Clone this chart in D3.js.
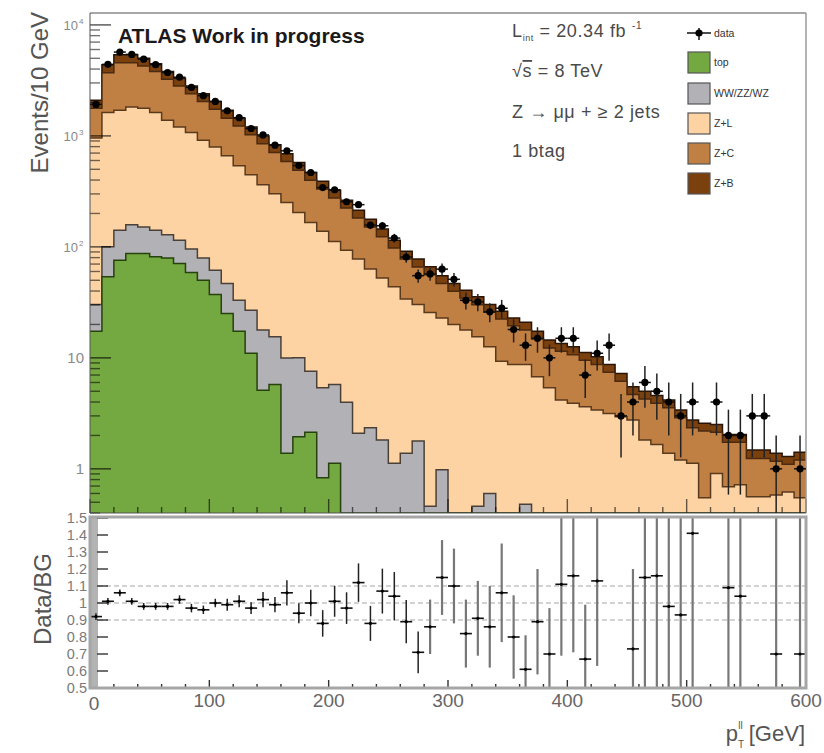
<!DOCTYPE html>
<html><head><meta charset="utf-8">
<script src="https://cdn.jsdelivr.net/npm/d3@7"></script>
<style>
body{margin:0;background:#fff}
svg{display:block}
text{font-family:"Liberation Sans",Arial,Helvetica,sans-serif}
</style>
</head><body>
<svg id="c" width="824" height="753"></svg>
<script>
// ---- data (p_T^ll bins of 10 GeV, 0..600) ----
const binLow = d3.range(0, 600, 10);

const topBkg = [17.4,53.7,75.9,87.1,87.1,81.3,79.4,70.8,58.9,50.1,
  37.2,25.1,17.4,11.0,5.1,5.75,1.38,1.95,2.14,0.83,
  1.12,0,0,0,0,0,0,0,0,0, 0,0,0,0,0,0,0,0,0,0,
  0,0,0,0,0,0,0,0,0,0, 0,0,0,0,0,0,0,0,0,0];

const diboson = [12.8,46.3,65.1,71.4,64.3,60,49.4,44,36.6,29.3,
  24.5,21.7,15.7,15.9,12.7,9.75,8.6,8.05,5.45,4.54,
  4.63,3.98,2.09,2.34,1.82,1.12,1.38,1.78,0.46,0.98,
  0,0,0.46,0.60,0,0,0.48,0,0,0, 0,0,0,0,0,0,0,0,0,0, 0,0,0,0,0,0,0,0,0,0];

const zLight = [925,1522,1557,1661,1627,1481,1251,1087,977,833,
  732,614,504,420,345,286,241,194,158,133,
  106,89.3,75.5,60.8,50.7,42.6,32.5,28.4,25.2,21.9,
  20.0,17.8,15.0,12.0,9.33,8.71,8.23,6.76,5.37,4.17,
  3.89,3.63,3.39,3.16,2.95,2.75,1.82,1.66,1.38,1.20,
  1.12,0.55,0.91,0.69,0.72,0.56,0.56,0.58,0.62,0.55];

const zCharm = [823,2093,2872,2750,2487,2179,1855,1616,1326,1130,
  944,784,693,576,488,406,338,285,232,193,
  164,131,104,88,71,54,43.7,35.8,30.5,23.9,
  19.8,16.8,14.7,13.1,13.1,10.8,9.1,8.0,6.9,7.3,
  6.8,5.9,5.3,4.25,3.2,1.93,2.44,2.23,2.17,1.68,
  1.22,1.64,1.23,1.05,1.02,0.68,0.68,0.59,0.48,0.65];

const zBottom = [311,650,800,800,747,666,567,493,420,357,
  304,253,215,179,149,124,103,86,70,58,
  48,39,32,26.5,21.6,17.1,13.6,11.6,9.9,8.2,
  7.0,6.1,5.3,4.5,3.9,3.4,3.1,2.6,2.2,2.0,
  1.9,1.67,1.52,1.30,1.08,0.82,0.75,0.68,0.62,0.51,
  0.41,0.38,0.37,0.30,0.30,0.24,0.24,0.21,0.19,0.21];

const dataCounts = [1922,4409,5692,5424,4912,4378,3726,3377,2733,2303,
  2042,1681,1459,1166,1020,824,734,541,468,342,
  327,255,240,157,155,120,81,55,57,63,
  51,33,32,26,28,18,13,15,10,15,
  15,7,11,13,3,4,6,5,4,3,
  4,0,4,2,2,3,3,1,0,1];

const ratio = [0.92,1.01,1.06,1.01,0.98,0.98,0.98,1.02,0.97,0.96,
  1.00,0.99,1.01,0.97,1.02,0.99,1.06,0.94,1.00,0.88,
  1.01,0.97,1.12,0.88,1.07,1.04,0.89,0.71,0.86,1.15,
  1.10,0.82,0.91,0.86,1.06,0.80,0.61,0.89,0.70,1.11,
  1.16,0.67,1.13,null,null,0.73,1.15,1.16,0.98,0.93,
  1.41,null,null,1.09,1.04,null,null,0.70,null,0.70];

const ratioErr = [0.02,0.02,0.02,0.02,0.02,0.02,0.02,0.025,0.025,0.025,
  0.025,0.035,0.035,0.035,0.045,0.045,0.074,0.059,0.078,0.078,
  0.091,0.093,0.113,0.103,0.132,0.142,0.127,0.123,0.16,0.22,
  0.22,0.2,0.22,0.24,0.29,0.245,0.2,0.31,0.27,0.42,
  0.45,0.32,0.5,0,0,0.47,0.8,0.8,0.7,0.7,
  1.0,0,0,1.0,1.0,0,0,0.8,0,0.8];

const xTicks = [0,100,200,300,400,500,600];
const ratioTicks = [0.5,0.6,0.7,0.8,0.9,1.0,1.1,1.2,1.3,1.4,1.5];
const legendNames = ["data","top","WW/ZZ/WZ","Z+L","Z+C","Z+B"];
const infoLines = ["20.34","8 TeV","Z \u2192 \u03bc\u03bc + \u2265 2 jets","1 btag"];

// ---- scales ----
const svg = d3.select("#c");
const X0 = 90, X1 = 806, YT = 13, YB = 513, RT = 518, RB = 688;
const x = d3.scaleLinear().domain([0, 600]).range([X0, X1]);
const y = d3.scaleLog().domain([0.4, 12800]).range([YB, YT]).clamp(true);
const yr = d3.scaleLinear().domain([0.5, 1.5]).range([RB, RT]);
const Y = v => v > 0 ? y(v) : YB;

svg.append("defs").append("clipPath").attr("id","cp")
  .append("rect").attr("x",X0).attr("y",YT).attr("width",X1-X0).attr("height",YB-YT);
svg.append("defs").append("clipPath").attr("id","cpr")
  .append("rect").attr("x",X0).attr("y",RT).attr("width",X1-X0).attr("height",RB-RT);

// ---- stacked histograms ----
const layers = [
  {name:"top", vals:topBkg, color:"#74a840", stroke:"#27420f"},
  {name:"WW/ZZ/WZ", vals:diboson, color:"#b2b2b6", stroke:"#4a4038"},
  {name:"Z+L", vals:zLight, color:"#fdd3a4", stroke:"#5a3a1c"},
  {name:"Z+C", vals:zCharm, color:"#c07f43", stroke:"#4a2a10"},
  {name:"Z+B", vals:zBottom, color:"#7a400e", stroke:"#2a1406"}
];
let cum = binLow.map(() => 0);
layers.forEach(l => { cum = cum.map((c,i) => c + l.vals[i]); l.hi = cum.slice(); });

const stepPts = arr => { const p = binLow.map((b,i) => [b, arr[i]]); p.push([600, arr[arr.length-1]]); return p; };
const area = d3.area().curve(d3.curveStepAfter).x(d => x(d[0])).y0(YB).y1(d => Y(d[1]));
const line = d3.line().curve(d3.curveStepAfter).x(d => x(d[0])).y(d => Y(d[1]));

const gm = svg.append("g").attr("clip-path","url(#cp)");
layers.slice().reverse().forEach(l => {
  gm.append("path").attr("d", area(stepPts(l.hi))).attr("fill", l.color);
  gm.append("path").attr("d", line(stepPts(l.hi))).attr("fill","none")
    .attr("stroke", l.stroke).attr("stroke-width", 1.5);
});

// ---- main axes ticks ----
const gt = svg.append("g");
const majors = [1,10,100,1000,10000];
const minors = [];
[-1,0,1,2,3].forEach(e => { for (let k=2;k<=9;k++){ const v=k*Math.pow(10,e); if (v>=0.4 && v<=12800) minors.push(v);} });
majors.forEach(v => gt.append("line").attr("x1",X0).attr("x2",X0+21).attr("y1",y(v)).attr("y2",y(v))
  .attr("stroke","rgba(0,0,0,0.6)").attr("stroke-width",1.6));
minors.forEach(v => gt.append("line").attr("x1",X0).attr("x2",X0+10).attr("y1",y(v)).attr("y2",y(v))
  .attr("stroke","rgba(0,0,0,0.55)").attr("stroke-width",1.4));
d3.range(0, 601, 20).forEach(v => {
  const L = v % 100 === 0 ? 14 : 6;
  gt.append("line").attr("x1",x(v)).attr("x2",x(v)).attr("y1",YB).attr("y2",YB-L)
    .attr("stroke","rgba(0,0,0,0.6)").attr("stroke-width",1.4);
});
// frame
svg.append("line").attr("x1",X0).attr("x2",X1).attr("y1",YT).attr("y2",YT).attr("stroke","#8a8a8a").attr("stroke-width",1.5);
svg.append("line").attr("x1",X1).attr("x2",X1).attr("y1",YT).attr("y2",YB).attr("stroke","#9a9a9a").attr("stroke-width",1.5);
svg.append("line").attr("x1",X0).attr("x2",X0).attr("y1",YT).attr("y2",YB).attr("stroke","#555").attr("stroke-width",1);
svg.append("line").attr("x1",X0).attr("x2",X1).attr("y1",YB).attr("y2",YB).attr("stroke","#555").attr("stroke-width",1);

// y labels
const ylab = svg.append("g").attr("fill","#8a8a8a");
[[1,"1",null],[10,"10",null],[100,"10","2"],[1000,"10","3"],[10000,"10","4"]].forEach(([v,b,s]) => {
  ylab.append("text").attr("x", s ? 78 : 84).attr("y", y(v)+5).attr("text-anchor","end")
    .attr("font-size", s ? 13 : 15).text(b);
  if (s) ylab.append("text").attr("x",79).attr("y",y(v)-1).attr("font-size",8).text(s);
});

// ---- data points in main panel ----
const gd = svg.append("g").attr("clip-path","url(#cp)");
dataCounts.forEach((n,i) => {
  if (n <= 0) return;
  const cx = x(binLow[i]+5), e = Math.sqrt(n);
  gd.append("line").attr("x1",cx).attr("x2",cx).attr("y1",Y(n+e)).attr("y2",Y(n-e > 0 ? n-e : 0))
    .attr("stroke","#222").attr("stroke-width",1.5);
  gd.append("line").attr("x1",x(binLow[i])).attr("x2",x(binLow[i]+10)).attr("y1",Y(n)).attr("y2",Y(n))
    .attr("stroke","#111").attr("stroke-width",1.5);
  gd.append("circle").attr("cx",cx).attr("cy",Y(n)).attr("r",3.6).attr("fill","#000");
});

// ---- texts ----
svg.append("text").attr("x",118).attr("y",43).attr("font-size",21).attr("font-weight","bold")
  .attr("fill","#1a1a1a").text("ATLAS Work in progress");
const info = svg.append("g").attr("fill","#4a4a4a").attr("font-size",18).attr("letter-spacing",0.6);
const t1 = info.append("text").attr("x",512).attr("y",37);
t1.append("tspan").text("L");
t1.append("tspan").attr("font-size",9).attr("dy",4).text("int");
t1.append("tspan").attr("dy",-4).text(" = " + infoLines[0] + " fb");
t1.append("tspan").attr("font-size",10).attr("dy",-8).attr("dx",6).text("-1");
const t2 = info.append("text").attr("x",512).attr("y",77);
t2.append("tspan").text("\u221a");
t2.append("tspan").attr("text-decoration","overline").text("s");
t2.append("tspan").text(" = " + infoLines[1]);
info.append("text").attr("x",512).attr("y",118).text(infoLines[2]);
info.append("text").attr("x",512).attr("y",157).text(infoLines[3]);

// legend
const lg = svg.append("g");
const legY = [33,62,93,123,153,183];
lg.append("line").attr("x1",687).attr("x2",711).attr("y1",legY[0]).attr("y2",legY[0]).attr("stroke","#111").attr("stroke-width",1.5);
lg.append("line").attr("x1",699).attr("x2",699).attr("y1",legY[0]-5).attr("y2",legY[0]+7).attr("stroke","#111").attr("stroke-width",1.5);
lg.append("circle").attr("cx",699).attr("cy",legY[0]).attr("r",3.6).attr("fill","#000");
layers.forEach((l,k) => {
  lg.append("rect").attr("x",688).attr("y",legY[k+1]-10).attr("width",22).attr("height",21)
    .attr("fill",l.color).attr("stroke","#555").attr("stroke-width",1.2);
});
legendNames.forEach((nm,k) => {
  lg.append("text").attr("x",714).attr("y",legY[k]+4).attr("font-size",10.5).attr("fill","#333").text(nm);
});

// axis titles
svg.append("text").attr("transform","translate(48,12) rotate(-90)").attr("text-anchor","end")
  .attr("font-size",24).attr("fill","#555").text("Events/10 GeV");
svg.append("text").attr("transform","translate(51,553) rotate(-90)").attr("text-anchor","end")
  .attr("font-size",24).attr("fill","#555").text("Data/BG");

// ---- ratio panel ----
svg.append("rect").attr("x",X0).attr("y",RT).attr("width",8).attr("height",RB-RT).attr("fill","#a0a0a0").attr("opacity",0.8);
const gr = svg.append("g");
[0.9,1.0,1.1].forEach(v => gr.append("line").attr("x1",X0+8).attr("x2",X1).attr("y1",yr(v)).attr("y2",yr(v))
  .attr("stroke","#c4c4c4").attr("stroke-width",1.5).attr("stroke-dasharray","5,3"));
ratioTicks.forEach(v => {
  gr.append("line").attr("x1",X0+7).attr("x2",X0+18).attr("y1",yr(v)).attr("y2",yr(v)).attr("stroke","#333").attr("stroke-width",1.4);
  svg.append("text").attr("x",87).attr("y",yr(v)+5).attr("text-anchor","end").attr("font-size",14.5)
    .attr("fill","#7a7a7a").text(v===1 ? "1" : d3.format(".1f")(v));
});
d3.range(0, 601, 20).forEach(v => {
  const L = v % 100 === 0 ? 8 : 4;
  gr.append("line").attr("x1",x(v)).attr("x2",x(v)).attr("y1",RB).attr("y2",RB-L).attr("stroke","#333").attr("stroke-width",1.4);
});
const grd = svg.append("g").attr("clip-path","url(#cpr)");
ratio.forEach((r,i) => {
  if (r === null) return;
  const cx = x(binLow[i]+5), e = ratioErr[i];
  grd.append("line").attr("x1",cx).attr("x2",cx).attr("y1",yr(r+e)).attr("y2",yr(r-e))
    .attr("stroke", e > 0.15 ? "#777" : "#222").attr("stroke-width", e > 0.15 ? 2.2 : 1.5);
  grd.append("line").attr("x1",cx-6).attr("x2",cx+6).attr("y1",yr(r)).attr("y2",yr(r)).attr("stroke","#111").attr("stroke-width",1.6);
  grd.append("circle").attr("cx",cx).attr("cy",yr(r)).attr("r",1.6).attr("fill","#000");
});
svg.append("rect").attr("x",X0).attr("y",RT-1).attr("width",X1-X0).attr("height",RB-RT+1)
  .attr("fill","none").attr("stroke","#a6a6a6").attr("stroke-width",3);

// x labels
xTicks.forEach(v => svg.append("text").attr("x",x(v)+(v===0?4:0)).attr("y",v===0 ? 710 : 707).attr("text-anchor","middle")
  .attr("font-size",19).attr("fill","#666").text(v));
const xt = svg.append("text").attr("x",805).attr("y",741).attr("text-anchor","end").attr("font-size",22).attr("fill","#555");
xt.append("tspan").text("p");
xt.append("tspan").attr("font-size",10).attr("dy",7).text("T");
xt.append("tspan").attr("font-size",10).attr("dx",-6).attr("dy",-19).text("ll");
xt.append("tspan").attr("dy",12).text(" [GeV]");
</script>
</body></html>
